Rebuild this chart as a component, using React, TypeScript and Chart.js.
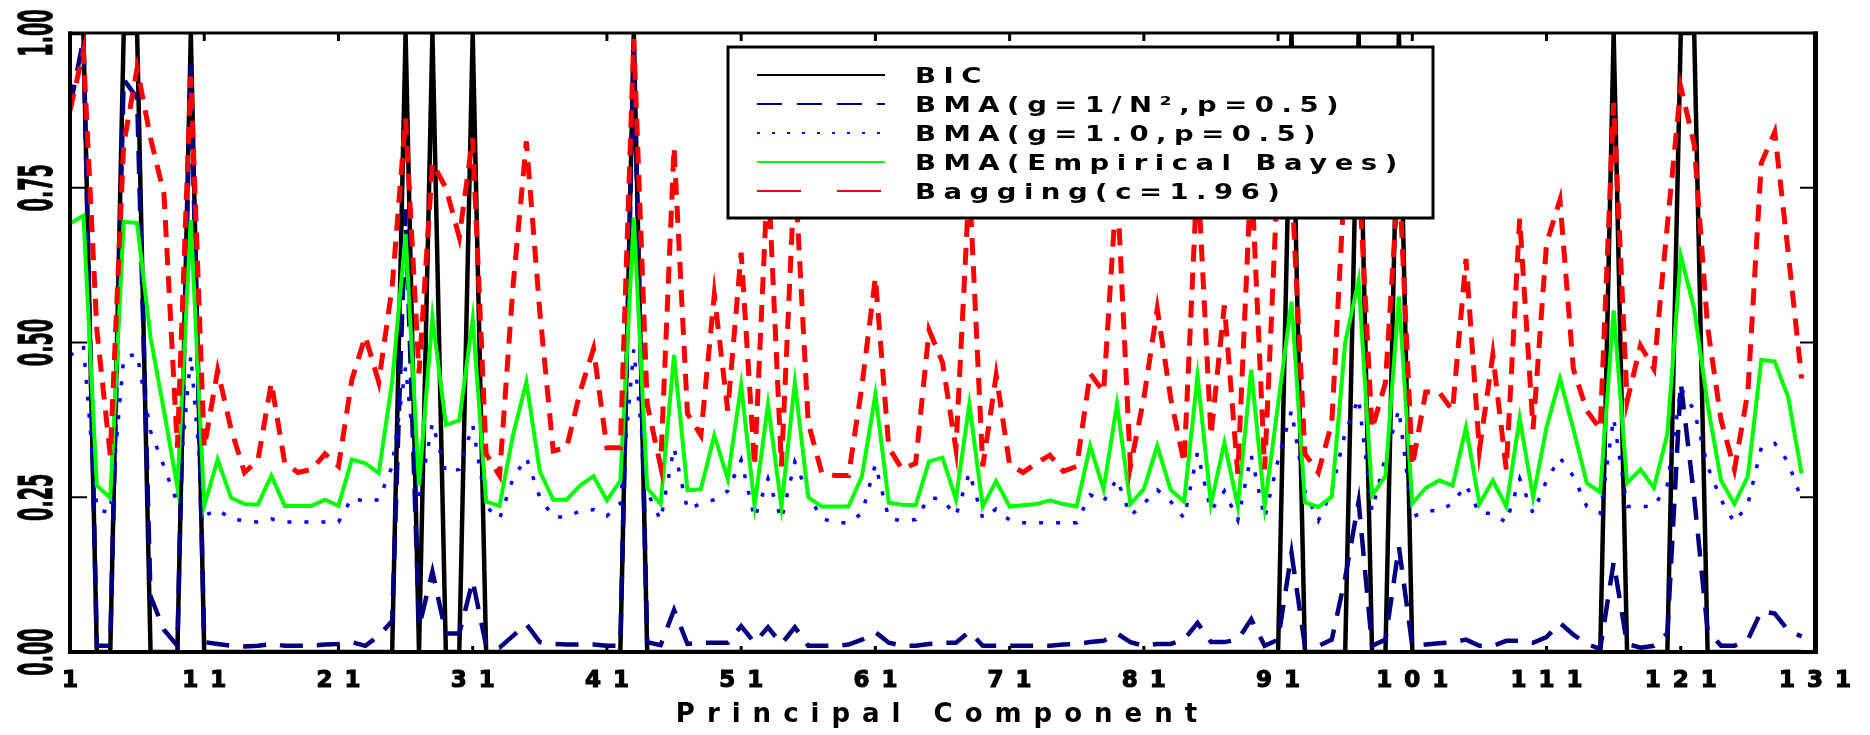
import React, { useEffect, useRef } from 'react';
import { Chart, registerables } from 'chart.js';

Chart.register(...registerables);

// ---------------- data ----------------
const components = Array.from({ length: 130 }, (_, i) => i + 1);
const xTickValues = [1, 11, 21, 31, 41, 51, 61, 71, 81, 91, 101, 111, 121, 131];
const yTickValues = [0, 0.25, 0.5, 0.75, 1];
const xTitle = 'Principal Component';
const seriesLabels = [
  'BIC',
  'BMA(g=1/N\u00B2,p=0.5)',
  'BMA(g=1.0,p=0.5)',
  'BMA(Empirical Bayes)',
  'Bagging(c=1.96)',
];

const bic = [
  1, 1, 0, 0, 1, 1, 0, 0, 0, 1,
  0, 0, 0, 0, 0, 0, 0, 0, 0, 0,
  0, 0, 0, 0, 0, 1, 0, 1, 0, 0,
  1, 0, 0, 0, 0, 0, 0, 0, 0, 0,
  0, 0, 1, 0, 0, 0, 0, 0, 0, 0,
  0, 0, 0, 0, 0, 0, 0, 0, 0, 0,
  0, 0, 0, 0, 0, 0, 0, 0, 0, 0,
  0, 0, 0, 0, 0, 0, 0, 0, 0, 0,
  0, 0, 0, 0, 0, 0, 0, 0, 0, 0,
  0, 1, 0, 0, 0, 0, 1, 0, 0, 1,
  0, 0, 0, 0, 0, 0, 0, 0, 0, 0,
  0, 0, 0, 0, 0, 1, 0, 0, 0, 0,
  1, 1, 0, 0, 0, 0, 0, 0, 0, 0,
];

const bmaN2 = [
  0.88, 0.99, 0.01, 0.01, 0.925, 0.895, 0.09, 0.036, 0.01, 0.95,
  0.016, 0.013, 0.01, 0.009, 0.01, 0.013, 0.01, 0.01, 0.01, 0.012,
  0.013, 0.016, 0.01, 0.026, 0.05, 0.715, 0.04, 0.13, 0.03, 0.03,
  0.115, 0.01, 0.007, 0.026, 0.045, 0.016, 0.013, 0.012, 0.012, 0.012,
  0.01, 0.01, 0.98, 0.016, 0.011, 0.068, 0.013, 0.015, 0.015, 0.015,
  0.042, 0.015, 0.04, 0.013, 0.04, 0.01, 0.01, 0.01, 0.012, 0.02,
  0.032, 0.015, 0.01, 0.01, 0.013, 0.015, 0.015, 0.033, 0.01, 0.01,
  0.01, 0.01, 0.01, 0.01, 0.012, 0.013, 0.016, 0.018, 0.03, 0.016,
  0.01, 0.013, 0.013, 0.02, 0.047, 0.016, 0.016, 0.02, 0.053, 0.01,
  0.02, 0.16, 0.01, 0.01, 0.02, 0.12, 0.243, 0.01, 0.02, 0.17,
  0.01, 0.012, 0.014, 0.016, 0.02, 0.01, 0.01, 0.018, 0.018, 0.015,
  0.024, 0.047, 0.028, 0.013, 0.005, 0.145, 0.013, 0.007, 0.01, 0.03,
  0.435, 0.25, 0.035, 0.01, 0.01, 0.02, 0.066, 0.062, 0.035, 0.025,
];

const bmaG1 = [
  0.479, 0.495, 0.23, 0.225, 0.475, 0.482, 0.357, 0.3, 0.24, 0.479,
  0.22, 0.23, 0.215, 0.212, 0.21, 0.215, 0.21, 0.21, 0.21, 0.21,
  0.21, 0.249, 0.243, 0.246, 0.3, 0.46, 0.25, 0.37, 0.29, 0.295,
  0.367, 0.235, 0.215, 0.28, 0.314, 0.25, 0.218, 0.218, 0.228, 0.23,
  0.22, 0.24, 0.489, 0.259, 0.213, 0.33, 0.23, 0.24, 0.246, 0.26,
  0.31, 0.216, 0.28, 0.214, 0.307, 0.254, 0.216, 0.209, 0.209, 0.224,
  0.303, 0.216, 0.212, 0.214, 0.25, 0.246, 0.22, 0.29, 0.216, 0.231,
  0.213, 0.209, 0.209, 0.209, 0.209, 0.209, 0.254, 0.243, 0.28, 0.22,
  0.24, 0.262, 0.243, 0.216, 0.322, 0.228, 0.26, 0.213, 0.318, 0.216,
  0.31, 0.39, 0.26, 0.212, 0.26, 0.355, 0.41, 0.228, 0.315, 0.392,
  0.218, 0.228, 0.228, 0.24, 0.27, 0.224, 0.224, 0.209, 0.28, 0.224,
  0.277, 0.314, 0.284, 0.235, 0.224, 0.378, 0.235, 0.235, 0.235, 0.27,
  0.427, 0.39, 0.3, 0.246, 0.209, 0.239, 0.33, 0.337, 0.307, 0.246,
];

const bmaEB = [
  0.692, 0.705, 0.269, 0.249, 0.695, 0.693, 0.508, 0.39, 0.266, 0.698,
  0.236, 0.311, 0.249, 0.239, 0.238, 0.285, 0.236, 0.236, 0.236, 0.246,
  0.236, 0.311, 0.305, 0.289, 0.436, 0.675, 0.269, 0.541, 0.367, 0.374,
  0.538, 0.243, 0.236, 0.35, 0.436, 0.292, 0.246, 0.246, 0.269, 0.284,
  0.245, 0.277, 0.702, 0.265, 0.239, 0.48, 0.261, 0.263, 0.35, 0.28,
  0.431, 0.237, 0.4, 0.235, 0.435, 0.25, 0.235, 0.235, 0.235, 0.284,
  0.416, 0.241, 0.238, 0.237, 0.308, 0.314, 0.247, 0.4, 0.235, 0.276,
  0.235, 0.237, 0.239, 0.245, 0.239, 0.235, 0.333, 0.263, 0.4, 0.239,
  0.263, 0.333, 0.262, 0.243, 0.446, 0.239, 0.338, 0.236, 0.456, 0.236,
  0.4, 0.566, 0.242, 0.234, 0.251, 0.5, 0.6, 0.253, 0.284, 0.574,
  0.24, 0.265, 0.277, 0.269, 0.363, 0.239, 0.277, 0.235, 0.378, 0.25,
  0.363, 0.442, 0.36, 0.273, 0.258, 0.552, 0.273, 0.295, 0.265, 0.352,
  0.64, 0.555, 0.4, 0.277, 0.239, 0.284, 0.472, 0.469, 0.412, 0.288,
];

const bagging = [
  0.875, 0.97, 0.52, 0.318, 0.82, 0.943, 0.83, 0.74, 0.33, 0.93,
  0.33, 0.455, 0.36, 0.29, 0.31, 0.435, 0.305, 0.29, 0.295, 0.32,
  0.3, 0.44, 0.51, 0.436, 0.59, 0.862, 0.45, 0.79, 0.75, 0.67,
  0.83, 0.32, 0.285, 0.59, 0.825, 0.55, 0.325, 0.33, 0.42, 0.49,
  0.33, 0.33, 0.99, 0.4, 0.3, 0.816, 0.385, 0.35, 0.577, 0.39,
  0.645, 0.3, 0.78, 0.3, 0.78, 0.37, 0.29, 0.285, 0.285, 0.43,
  0.605, 0.33, 0.295, 0.305, 0.52, 0.468, 0.328, 0.76, 0.3, 0.447,
  0.303, 0.29, 0.305, 0.318, 0.292, 0.3, 0.45, 0.42, 0.76, 0.3,
  0.41, 0.554, 0.41, 0.305, 0.78, 0.35, 0.56, 0.288, 0.78, 0.295,
  0.78, 0.76, 0.32, 0.29, 0.37, 0.78, 0.78, 0.36, 0.435, 0.78,
  0.3, 0.42, 0.42, 0.39, 0.635, 0.326, 0.48, 0.295, 0.7, 0.36,
  0.66, 0.73, 0.457, 0.39, 0.36, 0.887, 0.405, 0.495, 0.457, 0.69,
  0.913, 0.82, 0.525, 0.375, 0.295, 0.42, 0.79, 0.84, 0.646, 0.442,
];

// ---------------- styles ----------------
const FAMILY = "'DejaVu Sans', sans-serif";
const legendDashes = [[], [25, 15], [3, 12], [], [44, 36]];

const toPoints = (vals: number[]) => components.map((c, i) => ({ x: c, y: vals[i] }));

const decorPlugin = {
  id: 'decor',
  beforeLayout(chart: any) {
    chart.ctx.letterSpacing = '12px';
  },
  beforeDraw(chart: any) {
    chart.ctx.letterSpacing = '12px';
  },
  afterDatasetsDraw(chart: any) {
    const { ctx, chartArea: a, scales } = chart;
    const xs = scales.x;
    const ys = scales.y;
    ctx.save();
    ctx.letterSpacing = '0px';

    // legend box
    const L = { left: 728, top: 47, right: 1433, bottom: 218, x1: 757, x2: 885, tx: 915, y0: 75, step: 29 };
    ctx.fillStyle = '#ffffff';
    ctx.fillRect(L.left, L.top, L.right - L.left, L.bottom - L.top);
    ctx.strokeStyle = '#000000';
    ctx.lineWidth = 3;
    ctx.setLineDash([]);
    ctx.strokeRect(L.left, L.top, L.right - L.left, L.bottom - L.top);
    const fs = 22;
    chart.data.datasets.forEach((ds: any, i: number) => {
      const y = L.y0 + i * L.step;
      ctx.save();
      ctx.setLineDash(legendDashes[i]);
      ctx.lineWidth = 2;
      ctx.lineCap = 'butt';
      ctx.strokeStyle = ds.borderColor;
      ctx.beginPath();
      ctx.moveTo(L.x1, y);
      ctx.lineTo(L.x2, y);
      ctx.stroke();
      ctx.restore();
      ctx.save();
      ctx.translate(L.tx, y);
      ctx.scale(1.25, 1);
      ctx.letterSpacing = '6px';
      ctx.font = `bold ${fs}px ${FAMILY}`;
      ctx.fillStyle = '#000000';
      ctx.textAlign = 'left';
      ctx.textBaseline = 'alphabetic';
      ctx.fillText(ds.label, 0, (0.729 * fs) / 2);
      ctx.restore();
    });

    // frame
    ctx.fillStyle = '#000000';
    const h = a.bottom - a.top;
    const w = a.right - a.left;
    ctx.fillRect(a.left - 2, a.top - 1.5, 4, h + 3.5);
    ctx.fillRect(a.right - 2, a.top - 1.5, 5, h + 3.5);
    ctx.fillRect(a.left - 2, a.top - 1.5, w + 5, 3);
    ctx.fillRect(a.left - 2, a.bottom - 2, w + 5, 4);

    // inward tick marks
    xTickValues.slice(1, -1).forEach((v) => {
      const px = xs.getPixelForValue(v);
      ctx.fillRect(px - 1.5, a.top, 3, 8);
      ctx.fillRect(px - 1.5, a.bottom - 6, 3, 6);
    });
    yTickValues.slice(1, -1).forEach((v) => {
      const py = ys.getPixelForValue(v);
      ctx.fillRect(a.left, py - 1, 17, 2);
      ctx.fillRect(a.right - 15, py - 1, 15, 2);
    });
    ctx.restore();
  },
  afterDraw(chart: any) {
    const { ctx, scales } = chart;
    const ys = scales.y;
    const size = 47;
    ctx.save();
    ctx.letterSpacing = '0px';
    ctx.fillStyle = '#000000';
    ctx.strokeStyle = '#000000';
    ctx.lineWidth = 1;
    ctx.font = `bold ${size}px ${FAMILY}`;
    ctx.textAlign = 'center';
    ctx.textBaseline = 'alphabetic';
    yTickValues.forEach((v) => {
      const py = ys.getPixelForValue(v);
      ctx.save();
      ctx.translate(35, py);
      ctx.rotate(-Math.PI / 2);
      ctx.scale(0.41, 1);
      ctx.fillText(v.toFixed(2), 0, (0.729 * size) / 2);
      ctx.strokeText(v.toFixed(2), 0, (0.729 * size) / 2);
      ctx.restore();
    });
    ctx.restore();
  },
};

export default function App() {
  const ref = useRef<HTMLCanvasElement | null>(null);

  useEffect(() => {
    if (!ref.current) return;
    const chart = new Chart(ref.current, {
      type: 'line',
      data: {
        datasets: [
          { label: seriesLabels[0], data: toPoints(bic), borderColor: '#000000', borderWidth: 4.5, order: 5 },
          { label: seriesLabels[1], data: toPoints(bmaN2), borderColor: '#000080', borderWidth: 4.5, borderDash: [23, 14], order: 4 },
          { label: seriesLabels[2], data: toPoints(bmaG1), borderColor: '#0000ff', borderWidth: 3.5, borderDash: [4, 13], order: 3 },
          { label: seriesLabels[3], data: toPoints(bmaEB), borderColor: '#00ff00', borderWidth: 4, order: 2 },
          { label: seriesLabels[4], data: toPoints(bagging), borderColor: '#ff0000', borderWidth: 5, borderDash: [17, 11], order: 1 },
        ] as any,
      },
      options: {
        animation: false,
        responsive: false,
        events: [],
        layout: { padding: { left: 0, right: 55, top: 33, bottom: 0 } },
        elements: {
          point: { radius: 0 },
          line: { tension: 0, borderCapStyle: 'butt', fill: false },
        },
        plugins: { legend: { display: false }, tooltip: { enabled: false } },
        scales: {
          x: {
            type: 'linear',
            min: 1,
            max: 131,
            afterBuildTicks: (s: any) => {
              s.ticks = xTickValues.map((v) => ({ value: v }));
            },
            afterFit: (s: any) => {
              s.height = 83;
            },
            grid: { display: false },
            border: { display: false },
            ticks: {
              autoSkip: false,
              maxRotation: 0,
              minRotation: 0,
              color: '#000000',
              textStrokeColor: '#000000',
              textStrokeWidth: 1.2,
              padding: 7,
              labelOffset: 6,
              font: { family: FAMILY, size: 23, weight: 'bold' },
              callback: (v: any) => String(v),
            },
            title: {
              display: true,
              text: xTitle,
              color: '#000000',
              font: { family: FAMILY, size: 26, weight: 'bold' },
              padding: { top: 0, bottom: 4 },
            },
          },
          y: {
            type: 'linear',
            min: 0,
            max: 1,
            afterBuildTicks: (s: any) => {
              s.ticks = yTickValues.map((v) => ({ value: v }));
            },
            afterFit: (s: any) => {
              s.width = 70;
            },
            grid: { display: false },
            border: { display: false },
            ticks: { display: false },
          },
        },
      } as any,
      plugins: [decorPlugin],
    });
    return () => chart.destroy();
  }, []);

  return (
    <div style={{ position: 'absolute', left: 0, top: 0, width: 1870, height: 735, background: '#ffffff' }}>
      <canvas ref={ref} width={1870} height={735} style={{ display: 'block' }} />
    </div>
  );
}
